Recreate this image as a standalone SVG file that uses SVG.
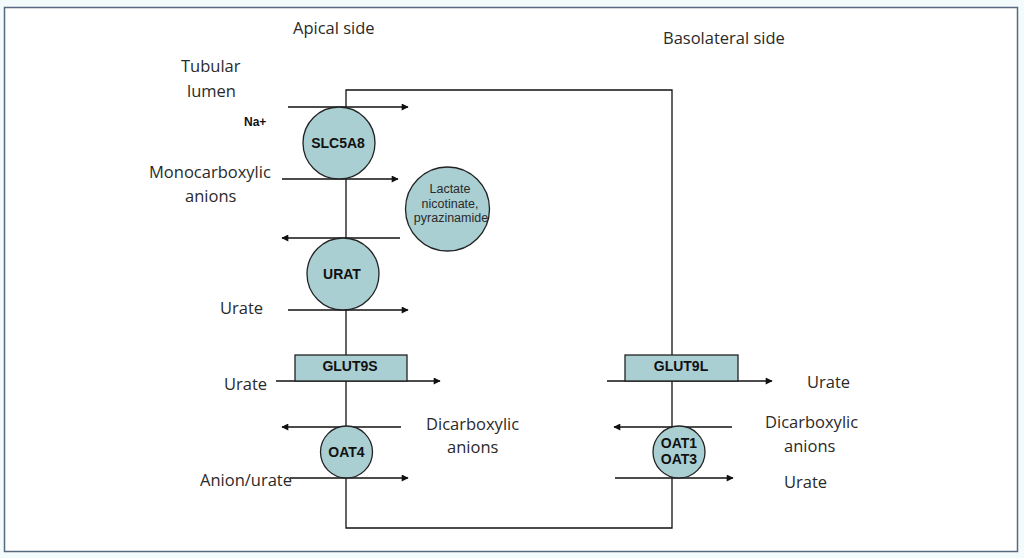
<svg xmlns="http://www.w3.org/2000/svg" width="1024" height="558" viewBox="0 0 1024 558">
<style>
.lbl{font-family:"Open Sans","Liberation Sans",sans-serif;font-size:16.5px;fill:#2a2a2a}
.in{font-family:"Liberation Sans",Arial,sans-serif;font-size:14px;font-weight:bold;fill:#111;text-anchor:middle}
.sm{font-family:"Liberation Sans",Arial,sans-serif;font-size:12.5px;fill:#2a2a2a;text-anchor:middle}
.ln{stroke:#111;stroke-width:1.3;fill:none}
.node{fill:#a9cfd3;stroke:#222;stroke-width:1.3}
</style>
<defs>
<marker id="ah" viewBox="0 0 10 10" refX="9" refY="5" markerWidth="9" markerHeight="7" markerUnits="userSpaceOnUse" orient="auto">
<path d="M0,0 L10,5 L0,10 z" fill="#111"/>
</marker>
</defs>
<rect x="0" y="0" width="1024" height="558" fill="#f4fbfd"/>
<rect x="4.5" y="7.5" width="1013" height="544" fill="#fff" stroke="#56697e" stroke-width="1.5"/>
<g id="labels">
<text class="lbl" x="293" y="34">Apical side</text>
<text class="lbl" x="663" y="44">Basolateral side</text>
<text class="lbl" x="181" y="72">Tubular</text>
<text class="lbl" x="187" y="97">lumen</text>
<text x="244" y="126" font-family="Liberation Sans,Arial,sans-serif" font-size="12" font-weight="bold" fill="#111">Na+</text>
<text class="lbl" x="149" y="178">Monocarboxylic</text>
<text class="lbl" x="185" y="202">anions</text>
<text class="lbl" x="220" y="314">Urate</text>
<text class="lbl" x="224" y="390">Urate</text>
<text class="lbl" x="426" y="430">Dicarboxylic</text>
<text class="lbl" x="447" y="453">anions</text>
<text class="lbl" x="200" y="486">Anion/urate</text>
<text class="lbl" x="807" y="388">Urate</text>
<text class="lbl" x="765" y="428">Dicarboxylic</text>
<text class="lbl" x="784" y="452">anions</text>
<text class="lbl" x="784" y="488">Urate</text>
</g>
<g id="connectors">
<path class="ln" d="M346,107 V90 H672 V528 H346 Z"/>
<line class="ln" x1="288" y1="107" x2="408" y2="107" marker-end="url(#ah)"/>
<line class="ln" x1="282" y1="179" x2="398" y2="179" marker-end="url(#ah)"/>
<line class="ln" x1="400" y1="238" x2="282" y2="238" marker-end="url(#ah)"/>
<line class="ln" x1="288" y1="310" x2="408" y2="310" marker-end="url(#ah)"/>
<line class="ln" x1="276" y1="381" x2="440" y2="381" marker-end="url(#ah)"/>
<line class="ln" x1="401" y1="427" x2="282" y2="427" marker-end="url(#ah)"/>
<line class="ln" x1="290" y1="478" x2="408" y2="478" marker-end="url(#ah)"/>
<line class="ln" x1="607" y1="381" x2="772" y2="381" marker-end="url(#ah)"/>
<line class="ln" x1="732" y1="427" x2="614" y2="427" marker-end="url(#ah)"/>
<line class="ln" x1="615" y1="478" x2="733" y2="478" marker-end="url(#ah)"/>
</g>
<g id="SLC5A8">
<circle class="node" cx="339" cy="143" r="36"/>
<text class="in" x="338" y="148">SLC5A8</text>
</g>
<g id="lactate">
<circle class="node" cx="447.5" cy="209" r="42"/>
<text class="sm" x="450" y="193">Lactate</text>
<text class="sm" x="450" y="207.5">nicotinate,</text>
<text class="sm" x="451" y="222">pyrazinamide</text>
</g>
<g id="URAT">
<circle class="node" cx="343" cy="274" r="36"/>
<text class="in" x="342" y="279">URAT</text>
</g>
<g id="GLUT9S">
<rect class="node" x="295" y="355" width="112" height="26"/>
<text class="in" x="350" y="371" font-size="9.5">GLUT9S</text>
</g>
<g id="OAT4">
<circle class="node" cx="346.5" cy="452" r="26"/>
<text class="in" x="346.5" y="457">OAT4</text>
</g>
<g id="GLUT9L">
<rect class="node" x="625" y="355" width="113" height="26"/>
<text class="in" x="681" y="371" font-size="9.5">GLUT9L</text>
</g>
<g id="OAT1_OAT3">
<circle class="node" cx="679" cy="452" r="26"/>
<text class="in" x="679" y="448">OAT1</text>
<text class="in" x="679" y="464">OAT3</text>
</g>
</svg>
